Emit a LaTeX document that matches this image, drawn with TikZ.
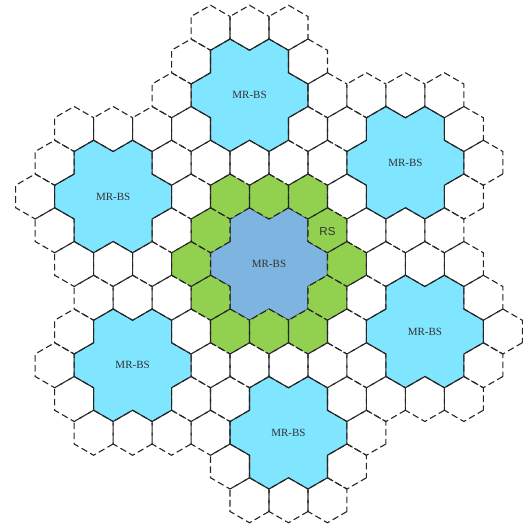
\documentclass[tikz,border=0pt]{standalone}
\usepackage{fontspec}
\setmainfont{Liberation Serif}
\newfontfamily\rsfont{Liberation Sans}
\usepackage{xcolor}
\usetikzlibrary{calc}

\definecolor{bscyan}{HTML}{80E5FF}
\definecolor{bsblue}{HTML}{7EB5E0}
\definecolor{rsgreen}{HTML}{92D050}

\tikzset{
  cellline/.style={draw=black!85, line width=1.1pt, dash pattern=on 6.5pt off 3.5pt},
  bsline/.style={draw=black!85, line width=1.1pt},
  bslabel/.style={text=black!80, font=\fontsize{11}{13}\selectfont},
  rslabel/.style={text=black!80, font=\rsfont\fontsize{11.5}{13}\selectfont},
}

\begin{document}
\begin{tikzpicture}[x=1pt,y=-1pt]
\begin{scope}
  %% hexagon size: corner radius and flat-to-flat width
  \def\R{22.5}
  \def\w{38.97}
  \def\Cx{269}
  \def\Cy{264}
  \useasboundingbox (0,0) rectangle (529,529);

  %% cluster centres in half-width / row steps (first one is the middle cluster)
  \def\clusters{0/0, -1/-5, -8/-2, -7/3, 1/5, 8/2, 7/-3}
  %% the 12 cells of the second ring round a cluster centre
  \def\ringtwo{4/0, 3/-1, 2/-2, 0/-2, -2/-2, -3/-1, -4/0, -3/1, -2/2, 0/2, 2/2, 3/1}

  %% MR-BS areas: seven cells merged into one outline
  \foreach \p/\q [count=\k] in \clusters{
    \pgfmathsetmacro\cx{\Cx+\p*\w/2}
    \pgfmathsetmacro\cy{\Cy+\q*1.5*\R}
    \ifnum\k=1 \def\fillc{bsblue}\else\def\fillc{bscyan}\fi
    \draw[bsline, fill=\fillc] (\cx,\cy) +(\w,-\R)
      \foreach \t in {0,60,...,300}{
        -- +({\w*cos(\t)+\R*cos(\t-90)},{\w*sin(\t)+\R*sin(\t-90)})
        -- +({\w*cos(\t)+\R*cos(\t-30)},{\w*sin(\t)+\R*sin(\t-30)})
        -- +({\w*cos(\t)+\R*cos(\t+30)},{\w*sin(\t)+\R*sin(\t+30)})
      } -- cycle;
  }

  %% RS ring round the middle MR-BS
  \foreach \p/\q in \ringtwo{
    \pgfmathsetmacro\hx{\Cx+\p*\w/2}
    \pgfmathsetmacro\hy{\Cy+\q*1.5*\R}
    \fill[rsgreen] (\hx,\hy) +(30:\R) -- +(90:\R) -- +(150:\R)
      -- +(210:\R) -- +(270:\R) -- +(330:\R) -- cycle;
  }

  %% dashed cells of every cluster
  \foreach \p/\q in \clusters{
    \foreach \dp/\dq in \ringtwo{
      \pgfmathsetmacro\hx{\Cx+(\p+\dp)*\w/2}
      \pgfmathsetmacro\hy{\Cy+(\q+\dq)*1.5*\R}
      \draw[cellline] (\hx,\hy) +(30:\R) -- +(90:\R) -- +(150:\R)
        -- +(210:\R) -- +(270:\R) -- +(330:\R) -- cycle;
    }
  }

  %% labels
  \foreach \p/\q [count=\k] in \clusters{
    \node[bslabel] (mrbs\k) at ({\Cx+\p*\w/2},{\Cy+\q*1.5*\R}) {MR-BS};
  }
  \node[rslabel] (rs) at ({\Cx+3*\w/2},{\Cy-1.5*\R+1.5}) {RS};
\end{scope}
\end{tikzpicture}
\end{document}
